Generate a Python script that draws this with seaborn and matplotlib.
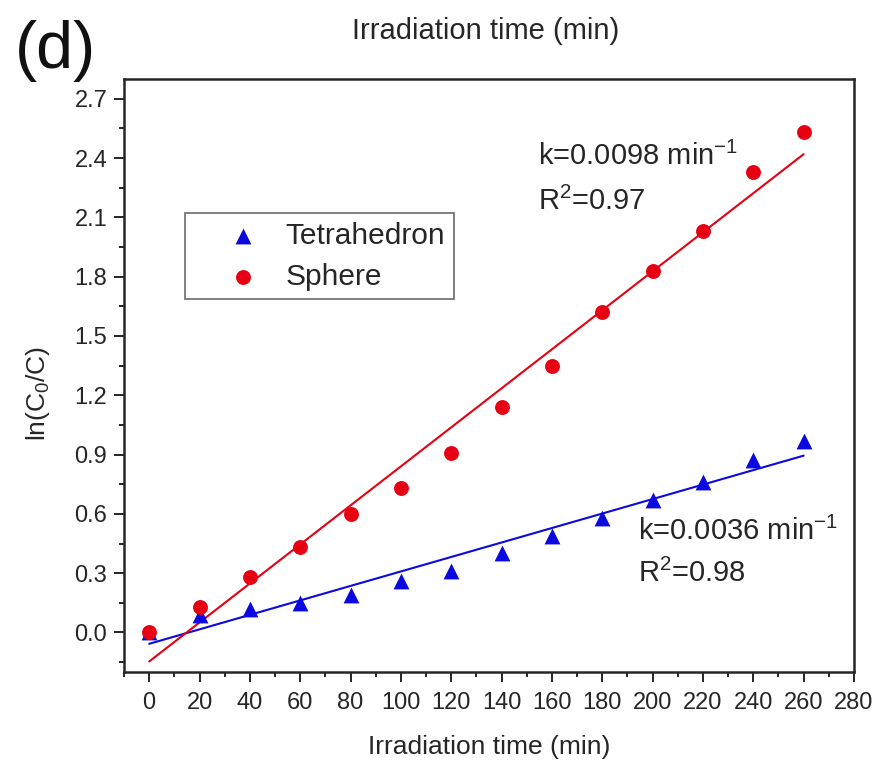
import numpy as np
import pandas as pd
import matplotlib
matplotlib.use("Agg")
import matplotlib.pyplot as plt
import seaborn as sns
from matplotlib.ticker import MultipleLocator

time_min = [0, 20, 40, 60, 80, 100, 120, 140, 160, 180, 200, 220, 240, 260]
tetrahedron = [0.0, 0.09, 0.12, 0.15, 0.19, 0.26, 0.31, 0.40, 0.49, 0.58, 0.67, 0.76, 0.87, 0.97]
sphere = [0.0, 0.13, 0.28, 0.43, 0.60, 0.73, 0.91, 1.14, 1.35, 1.62, 1.83, 2.03, 2.33, 2.53]
x_ticks = list(range(0, 281, 20))
y_ticks = [0.0, 0.3, 0.6, 0.9, 1.2, 1.5, 1.8, 2.1, 2.4, 2.7]

sns.set_theme(style="ticks")
plt.rcParams['font.family'] = ['Liberation Sans', 'DejaVu Sans']
plt.rcParams['mathtext.fontset'] = 'custom'
plt.rcParams['mathtext.rm'] = 'Liberation Sans'
plt.rcParams['mathtext.it'] = 'Liberation Sans:italic'

df = pd.DataFrame({"t": time_min, "Tetrahedron": tetrahedron, "Sphere": sphere})

fig = plt.figure(figsize=(8.77, 7.62), dpi=100)
ax = fig.add_axes([124 / 877, 1 - 672 / 762, 730 / 877, 593 / 762])

blue = "#0a0ae0"
red = "#e60012"
ink = "#262626"

sns.regplot(data=df, x="t", y="Tetrahedron", ax=ax, ci=None, scatter=False,
            line_kws=dict(color=blue, lw=1.5))
sns.regplot(data=df, x="t", y="Sphere", ax=ax, ci=None, scatter=False,
            line_kws=dict(color=red, lw=1.5))
sns.scatterplot(data=df, x="t", y="Tetrahedron", ax=ax, marker="^", color=blue,
                s=130, edgecolor=blue, linewidth=0, label="Tetrahedron", zorder=3)
sns.scatterplot(data=df, x="t", y="Sphere", ax=ax, marker="o", color=red,
                s=115, edgecolor=red, linewidth=0, label="Sphere", zorder=3)

ax.set_xlim(-10, 280)
ax.set_ylim(-0.2, 2.8)
ax.set_xticks(x_ticks)
ax.set_yticks(y_ticks)
ax.set_yticklabels([f"{v:.1f}" for v in y_ticks])
ax.xaxis.set_minor_locator(MultipleLocator(10))
ax.yaxis.set_minor_locator(MultipleLocator(0.15))
ax.tick_params(axis="both", which="major", direction="out", length=7, width=1.4,
               labelsize=17, colors=ink)
ax.tick_params(axis="x", which="major", pad=7.5)
ax.tick_params(axis="y", which="major", pad=5)
ax.tick_params(axis="both", which="minor", direction="out", length=3.5, width=1.4,
               colors=ink)
ax.tick_params(top=False, right=False, which="both")
for sp in ax.spines.values():
    sp.set_linewidth(1.8)
    sp.set_color(ink)
    sp.set_visible(True)

ax.set_xlabel("Irradiation time (min)", fontsize=19, color=ink)
ax.xaxis.set_label_coords(0.5, -0.106)
ax.set_ylabel(r"ln(C$_0$/C)", fontsize=19, color=ink)
ax.yaxis.set_label_coords(-0.0986, 0.47)

ax.text(154.4, 2.366, r"k=0.0098 min$^{-1}$", fontsize=21, color=ink, va="baseline")
ax.text(154.4, 2.138, r"R$^2$=0.97", fontsize=21, color=ink, va="baseline")
ax.text(194, 0.469, r"k=0.0036 min$^{-1}$", fontsize=21, color=ink, va="baseline")
ax.text(194, 0.257, r"R$^2$=0.98", fontsize=21, color=ink, va="baseline")

leg = ax.legend(loc="upper left", bbox_to_anchor=(0.0836, 0.774), fontsize=21.5,
                frameon=True, fancybox=False, edgecolor="#555555",
                borderpad=0.3, handletextpad=-0.2, labelspacing=0.42,
                borderaxespad=0, handlelength=3.27)
leg.get_frame().set_linewidth(1.3)
for t in leg.get_texts():
    t.set_color(ink)

fig.text(15 / 877, 1 - 20 / 762, "(d)", fontsize=48, color="#111111", va="top")
fig.text(486 / 877, 1 - 31 / 762, "Irradiation time (min)", fontsize=21, ha="center",
         va="center", color=ink)

fig.savefig("out.png", dpi=100)
